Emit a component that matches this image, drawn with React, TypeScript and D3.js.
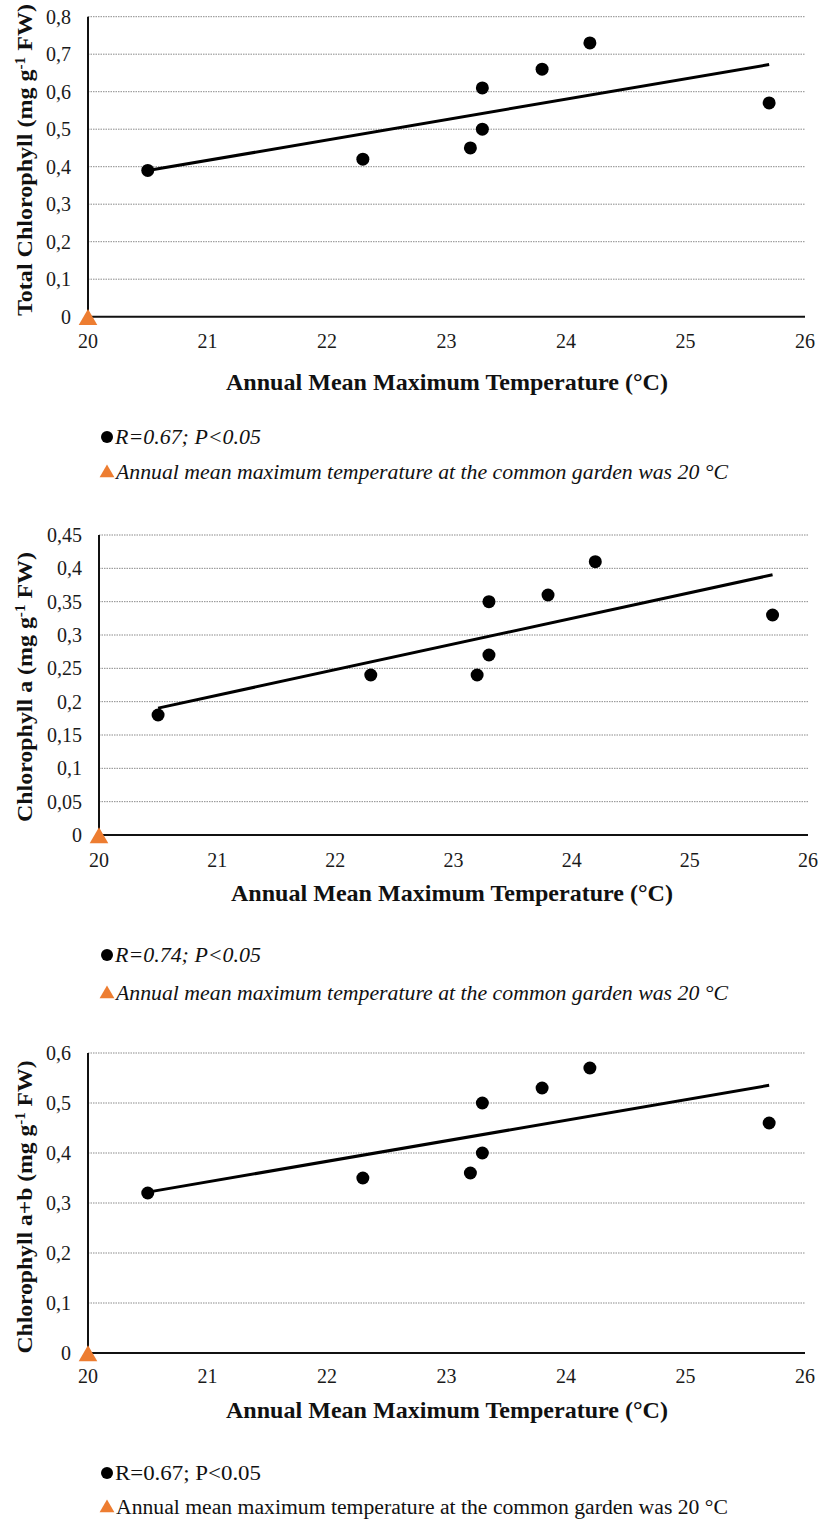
import React from "react";
import * as d3 from "d3";

const temps = [20.5, 22.3, 23.2, 23.3, 23.3, 23.8, 24.2, 25.7];
const totalChl = [0.39, 0.42, 0.45, 0.5, 0.61, 0.66, 0.73, 0.57];
const chlA = [0.18, 0.24, 0.24, 0.27, 0.35, 0.36, 0.41, 0.33];
const chlAB = [0.32, 0.35, 0.36, 0.4, 0.5, 0.53, 0.57, 0.46];
const xTicks = [20, 21, 22, 23, 24, 25, 26];
const ticksTotal = [0, 0.1, 0.2, 0.3, 0.4, 0.5, 0.6, 0.7, 0.8];
const ticksA = [0, 0.05, 0.1, 0.15, 0.2, 0.25, 0.3, 0.35, 0.4, 0.45];
const ticksAB = [0, 0.1, 0.2, 0.3, 0.4, 0.5, 0.6];
const gardenTemp = 20;
const legendStats = ["R=0.67; P<0.05", "R=0.74; P<0.05", "R=0.67; P<0.05"];
const legendGarden = "Annual mean maximum temperature at the common garden was 20 °C";
const xTitle = "Annual Mean Maximum Temperature (°C)";

const FONT = '"Liberation Serif", "DejaVu Serif", serif';
const ORANGE = "#ED7D31";

function fmt(v: number) {
  return String(+v.toFixed(2)).replace(".", ",");
}

function regression(xs: number[], ys: number[]) {
  const mx = d3.mean(xs)!;
  const my = d3.mean(ys)!;
  let sxy = 0, sxx = 0;
  xs.forEach((x, i) => { sxy += (x - mx) * (ys[i] - my); sxx += (x - mx) ** 2; });
  const b = sxy / sxx;
  return (x: number) => my + b * (x - mx);
}

type ChartProps = {
  ys: number[]; yTicks: number[]; yMax: number;
  left: number; right: number; top: number; bottom: number;
  yTitle: string; yTitleCenter: number; yTitleLen: number;
  tickLabelY: number; titleY: number; titleCx: number;
  legY1: number; legY2: number; statText: string; italic: boolean;
};

const txt = { fontFamily: FONT };

function Chart(p: ChartProps) {
  const x = d3.scaleLinear().domain([20, 26]).range([p.left, p.right]);
  const y = d3.scaleLinear().domain([0, p.yMax]).range([p.bottom, p.top]);
  const fit = regression(temps, p.ys);
  const [x0, x1] = d3.extent(temps) as [number, number];
  const line = d3.line<number>().x(t => x(t)).y(t => y(fit(t)));
  const tri = d3.symbol().type(d3.symbolTriangle).size(150)();
  const triSmall = d3.symbol().type(d3.symbolTriangle).size(95)();
  const [pre, post] = p.yTitle.split("|");
  const legStyle = { ...txt, fontStyle: p.italic ? "italic" : "normal" };
  return (
    <g>
      {p.yTicks.filter(t => t > 0).map(t => (
        <line key={t} x1={p.left} x2={p.right} y1={y(t)} y2={y(t)} stroke="#8a8a8a" strokeWidth={1} strokeDasharray="1.5 1" />
      ))}
      <line x1={p.left} x2={p.right} y1={p.bottom} y2={p.bottom} stroke="#111" strokeWidth={2} />
      <line x1={p.left} x2={p.left} y1={p.top} y2={p.bottom} stroke="#111" strokeWidth={2} />
      {p.yTicks.map(t => (
        <text key={t} style={txt} x={p.left - 17} y={y(t)} dy="0.35em" textAnchor="end" fontSize={20} fill="#1a1a1a">{fmt(t)}</text>
      ))}
      {xTicks.map(t => (
        <text key={t} style={txt} x={x(t)} y={p.tickLabelY} dy="0.35em" textAnchor="middle" fontSize={20} fill="#1a1a1a">{t}</text>
      ))}
      <text style={txt} x={p.titleCx} y={p.titleY} dy="0.35em" textAnchor="middle" fontSize={23} fontWeight="bold" fill="#111"
        textLength={442} lengthAdjust="spacingAndGlyphs">{xTitle}</text>
      <text style={txt} transform={`translate(24,${p.yTitleCenter}) rotate(-90)`} textAnchor="middle" dy="0.35em" fontSize={22} fontWeight="bold" fill="#111"
        textLength={p.yTitleLen} lengthAdjust="spacingAndGlyphs">
        {pre}<tspan dy="-7" fontSize={14}>-1</tspan><tspan dy="7"> {post}</tspan>
      </text>
      <path d={line([x0, x1]) || ""} fill="none" stroke="#000" strokeWidth={3} />
      {temps.map((t, i) => (
        <circle key={i} cx={x(t)} cy={y(p.ys[i])} r={6.5} fill="#000" />
      ))}
      <path d={tri} transform={`translate(${x(gardenTemp)},${y(0) + 3})`} fill={ORANGE} />
      <circle cx={107} cy={p.legY1} r={6} fill="#000" />
      <text x={115} y={p.legY1} dy="0.35em" fontSize={20} style={legStyle} fill="#111"
        textLength={146} lengthAdjust="spacingAndGlyphs">{p.statText}</text>
      <path d={triSmall} transform={`translate(107,${p.legY2 + 1})`} fill={ORANGE} />
      <text x={116} y={p.legY2} dy="0.35em" fontSize={20} style={legStyle} fill="#111"
        textLength={612} lengthAdjust="spacingAndGlyphs">{legendGarden}</text>
    </g>
  );
}

export default function App() {
  return (
    <svg width={819} height={1522} style={{ position: "absolute", left: 0, top: 0, background: "#fff" }}>
      <rect width={819} height={1522} fill="#fff" />
      <Chart ys={totalChl} yTicks={ticksTotal} yMax={0.8} left={88} right={805} top={16.7} bottom={316.7}
        yTitle="Total Chlorophyll (mg g|FW)" yTitleCenter={160} yTitleLen={312}
        tickLabelY={341} titleY={382} titleCx={447} legY1={437} legY2={472} statText={legendStats[0]} italic={true} />
      <Chart ys={chlA} yTicks={ticksA} yMax={0.45} left={99} right={808} top={535} bottom={835}
        yTitle="Chlorophyll a (mg g|FW)" yTitleCenter={687} yTitleLen={270}
        tickLabelY={860} titleY={893} titleCx={452} legY1={955} legY2={993} statText={legendStats[1]} italic={true} />
      <Chart ys={chlAB} yTicks={ticksAB} yMax={0.6} left={88} right={805} top={1053} bottom={1353}
        yTitle="Chlorophyll a+b (mg g|FW)" yTitleCenter={1207} yTitleLen={293}
        tickLabelY={1376} titleY={1410} titleCx={447} legY1={1473} legY2={1507} statText={legendStats[2]} italic={false} />
    </svg>
  );
}
